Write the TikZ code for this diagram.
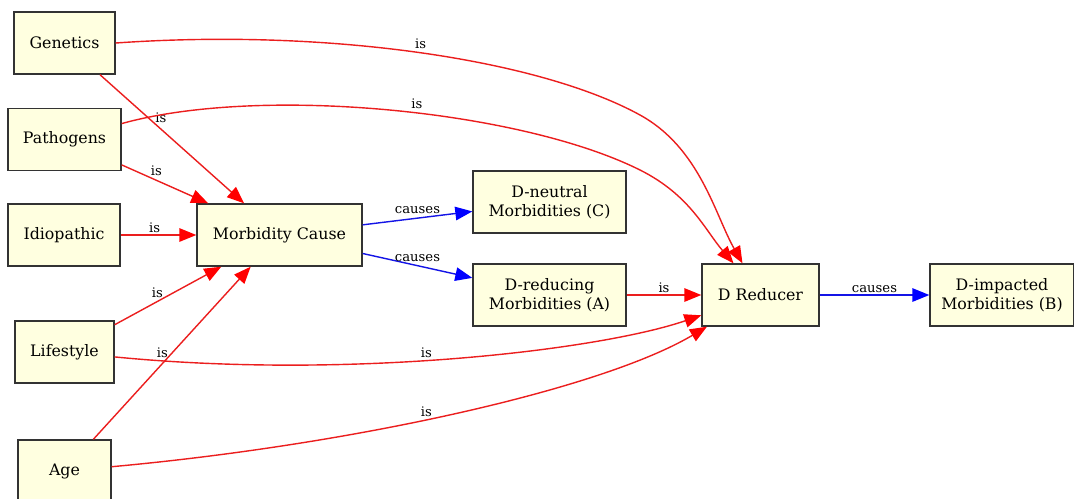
\documentclass[tikz,border=0pt]{standalone}
\usepackage{fontspec}
\setmainfont{DejaVu Serif}
\usetikzlibrary{arrows.meta}
\definecolor{lyellow}{RGB}{255,255,224}
\definecolor{isred}{RGB}{235,30,30}
\definecolor{causeblue}{RGB}{20,20,230}
\tikzset{
  box/.style={draw=black!80, fill=lyellow, line width=0.8pt, align=center,
    font=\fontsize{9}{10.5}\selectfont, inner sep=0pt, minimum height=1.24cm},
  isedge/.style={draw=isred, line width=0.8pt, -{Triangle[length=0.34cm,width=0.27cm,color=red]}},
  causeedge/.style={draw=causeblue, line width=0.8pt, -{Triangle[length=0.34cm,width=0.27cm,color=blue]}},
  lbl/.style={font=\fontsize{7.5}{8}\selectfont, inner sep=1pt, text=black}
}

\begin{document}
\begin{tikzpicture}[x=0.02cm, y=-0.02cm]
    \useasboundingbox (0,0) rectangle (1074,498);
    \node[box, minimum width=2.02cm] (gen) at (64.5,43) {Genetics};
    \node[box, minimum width=2.26cm] (path) at (64.5,139.5) {Pathogens};
    \node[box, minimum width=2.24cm] (idio) at (64,235) {Idiopathic};
    \node[box, minimum width=1.98cm] (life) at (64.5,352) {Lifestyle};
    \node[box, minimum width=1.86cm] (age) at (64.5,471) {Age};
    \node[box, minimum width=3.30cm] (cause) at (279.5,235) {Morbidity Cause};
    \node[box, minimum width=3.06cm] (neut) at (549.5,202) {D-neutral\\Morbidities (C)};
    \node[box, minimum width=3.06cm] (reduc) at (549.5,295) {D-reducing\\Morbidities (A)};
    \node[box, minimum width=2.34cm] (dred) at (760.5,295) {D Reducer};
    \node[box, minimum width=2.88cm] (impact) at (1002,295) {D-impacted\\Morbidities (B)};

    \draw[isedge] (gen) -- node[lbl, pos=0.38, above right=-1pt] {is} (cause);
    \draw[isedge] (path) -- node[lbl, pos=0.4, above=1pt] {is} (cause);
    \draw[isedge] (idio) -- node[lbl, pos=0.45, above] {is} (cause);
    \draw[isedge] (life) -- node[lbl, pos=0.4, above=1pt] {is} (cause);
    \draw[isedge] (age) -- node[lbl, pos=0.5, left=1pt] {is} (cause);

    \draw[isedge] (gen.east) .. controls (330,28) and (540,60) .. node[lbl, pos=0.5, above=1pt] {is} (640,115)
        .. controls (700,148) and (715,215) .. (dred);
    \draw[isedge] (path) .. controls (260,85) and (520,110) .. node[lbl, pos=0.55, above=1pt] {is} (640,170)
        .. controls (690,195) and (705,230) .. (dred);
    \draw[isedge] (life) .. controls (350,380) and (600,350) .. node[lbl, pos=0.45, above] {is} (dred);
    \draw[isedge] (age) .. controls (350,445) and (600,390) .. node[lbl, pos=0.45, above] {is} (dred);

    \draw[causeedge] (cause) -- node[lbl, above=1pt] {causes} (neut);
    \draw[causeedge] (cause) -- node[lbl, above=1pt] {causes} (reduc);
    \draw[isedge] (reduc) -- node[lbl, above] {is} (dred);
    \draw[causeedge] (dred) -- node[lbl, above] {causes} (impact);
\end{tikzpicture}
\end{document}
